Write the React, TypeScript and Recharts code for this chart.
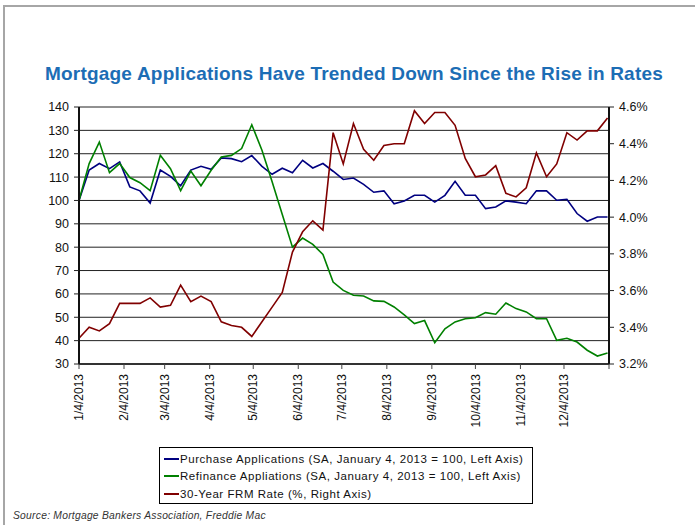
import React from 'react';
import { LineChart, Line, XAxis, YAxis, CartesianGrid } from 'recharts';

// weekly observations (Fridays)
const weekDates = [
  '1/4/2013', '1/11/2013', '1/18/2013', '1/25/2013',
  '2/1/2013', '2/8/2013', '2/15/2013', '2/22/2013',
  '3/1/2013', '3/8/2013', '3/15/2013', '3/22/2013', '3/29/2013',
  '4/5/2013', '4/12/2013', '4/19/2013', '4/26/2013',
  '5/3/2013', '5/10/2013', '5/17/2013', '5/24/2013', '5/31/2013',
  '6/7/2013', '6/14/2013', '6/21/2013', '6/28/2013',
  '7/5/2013', '7/12/2013', '7/19/2013', '7/26/2013',
  '8/2/2013', '8/9/2013', '8/16/2013', '8/23/2013', '8/30/2013',
  '9/6/2013', '9/13/2013', '9/20/2013', '9/27/2013',
  '10/4/2013', '10/11/2013', '10/18/2013', '10/25/2013',
  '11/1/2013', '11/8/2013', '11/15/2013', '11/22/2013', '11/29/2013',
  '12/6/2013', '12/13/2013', '12/20/2013', '12/27/2013',
  '1/3/2014',
];

const purchase = [
  100, 113.0, 115.8, 113.6, 116.5, 105.8, 104.1, 98.9, 113.0, 110.3,
  106.3, 113.0, 114.6, 113.3, 118.2, 117.9, 116.6, 119.2, 114.6, 111.2,
  113.8, 111.9, 117.2, 113.9, 115.8, 112.5, 109.0, 109.6, 106.9, 103.5,
  104.1, 98.6, 99.8, 102.2, 102.2, 99.3, 102.2, 108.2, 102.2, 102.2,
  96.5, 97.2, 99.8, 99.3, 98.6, 104.1, 104.1, 100.1, 100.5, 94.4,
  91.1, 92.9, 92.9,
];

const refinance = [
  100, 115.8, 125.0, 111.9, 115.8, 109.8, 107.6, 104.2, 119.3, 113.6,
  104.2, 112.6, 106.3, 112.9, 118.6, 119.3, 122.2, 132.4, 121.5, 108.0,
  94.0, 80.0, 83.9, 81.2, 76.9, 65.1, 61.5, 59.4, 59.1, 57.0,
  56.8, 54.4, 51.0, 47.3, 48.6, 39.1, 45.1, 48.0, 49.4, 49.8,
  52.0, 51.3, 56.1, 53.7, 52.3, 49.4, 49.4, 40.1, 41.0, 39.4,
  35.9, 33.4, 34.7,
];

const frmRate = [
  3.34, 3.40, 3.38, 3.42, 3.53, 3.53, 3.53, 3.56, 3.51, 3.52,
  3.63, 3.54, 3.57, 3.54, 3.43, 3.41, 3.40, 3.35, 3.43, 3.51,
  3.59, 3.81, 3.92, 3.98, 3.93, 4.46, 4.29, 4.51, 4.37, 4.31,
  4.39, 4.40, 4.40, 4.58, 4.51, 4.57, 4.57, 4.50, 4.32, 4.22,
  4.23, 4.28, 4.13, 4.11, 4.16, 4.35, 4.22, 4.29, 4.46, 4.42,
  4.47, 4.47, 4.54,
];

const tickLabels = [
  '1/4/2013', '2/4/2013', '3/4/2013', '4/4/2013', '5/4/2013', '6/4/2013',
  '7/4/2013', '8/4/2013', '9/4/2013', '10/4/2013', '11/4/2013', '12/4/2013',
];
const axisStart = '1/4/2013';
const axisEnd = '1/4/2014';

const leftTicks = [30, 40, 50, 60, 70, 80, 90, 100, 110, 120, 130, 140];
const rightTicks = [3.2, 3.4, 3.6, 3.8, 4.0, 4.2, 4.4, 4.6];

const toUtc = (s: string) => {
  const [m, d, y] = s.split('/').map(Number);
  return Date.UTC(y, m - 1, d);
};
const dayOf = (s: string) => (toUtc(s) - toUtc(axisStart)) / 86400000;

const data = weekDates.map((d, i) => ({
  day: dayOf(d),
  purchase: purchase[i],
  refi: refinance[i],
  rate: frmRate[i],
}));

const tickDays = [...tickLabels, axisEnd].map(dayOf);
const labelByDay: Record<number, string> = {};
tickLabels.forEach((t) => (labelByDay[dayOf(t)] = t));

const FONT = '"Liberation Sans", Arial, sans-serif';

const DateTick = (props: any) => {
  const { x, y, payload } = props;
  const label = labelByDay[payload.value];
  if (!label) return null;
  const ty = y + 3;
  return (
    <text
      x={x}
      y={ty}
      dy="0.35em"
      textAnchor="end"
      transform={`rotate(-90, ${x}, ${ty})`}
      fontSize={12}
      fontFamily={FONT}
      fill="#111"
    >
      {label}
    </text>
  );
};

const legendItems = [
  { color: '#000080', text: 'Purchase Applications (SA, January 4, 2013 = 100, Left Axis)' },
  { color: '#008000', text: 'Refinance Appliations (SA, January 4, 2013 = 100, Left Axis)' },
  { color: '#800000', text: '30-Year FRM Rate (%, Right Axis)' },
];

export default function App() {
  return (
    <div
      style={{
        position: 'absolute',
        left: 0,
        top: 0,
        width: 695,
        height: 525,
        background: '#fff',
        fontFamily: FONT,
        overflow: 'hidden',
      }}
    >
      <div
        style={{
          position: 'absolute',
          left: 3,
          top: 5,
          width: 700,
          height: 530,
          borderTop: '2px solid #a6a6a6',
          borderLeft: '2px solid #a6a6a6',
        }}
      />
      <div
        style={{
          position: 'absolute',
          left: 0,
          top: 63,
          width: 708,
          textAlign: 'center',
          color: '#1c6db5',
          fontWeight: 700,
          fontSize: 19,
          letterSpacing: 0.2,
          whiteSpace: 'nowrap',
        }}
      >
        Mortgage Applications Have Trended Down Since the Rise in Rates
      </div>

      <div style={{ position: 'absolute', left: 0, top: 0 }}>
        <LineChart
          width={695}
          height={525}
          data={data}
          margin={{ top: 107, right: 36, bottom: 91, left: 39 }}
        >
          <CartesianGrid
            yAxisId="left"
            vertical={false}
            stroke="#222"
            strokeWidth={1}
          />
          <XAxis
            type="number"
            dataKey="day"
            domain={[0, dayOf(axisEnd)]}
            ticks={tickDays}
            interval={0}
            tick={<DateTick />}
            tickSize={5}
            tickLine={{ stroke: '#444' }}
            axisLine={{ stroke: '#333', strokeWidth: 2 }}
            height={70}
          />
          <YAxis
            yAxisId="left"
            domain={[30, 140]}
            ticks={leftTicks}
            interval={0}
            width={40}
            tickSize={5}
            tickMargin={5}
            tickLine={{ stroke: '#222' }}
            axisLine={{ stroke: '#111', strokeWidth: 2 }}
            tick={{ fontSize: 12.5, fill: '#111', fontFamily: FONT }}
          />
          <YAxis
            yAxisId="right"
            orientation="right"
            domain={[3.2, 4.6]}
            ticks={rightTicks}
            interval={0}
            width={50}
            tickSize={5}
            tickMargin={5}
            tickLine={{ stroke: '#222' }}
            axisLine={{ stroke: '#111', strokeWidth: 2 }}
            tickFormatter={(v: number) => `${v.toFixed(1)}%`}
            tick={{ fontSize: 12.5, fill: '#111', fontFamily: FONT }}
          />
          <Line
            yAxisId="left"
            type="linear"
            dataKey="purchase"
            stroke="#000080"
            strokeWidth={1.6}
            dot={false}
            isAnimationActive={false}
          />
          <Line
            yAxisId="left"
            type="linear"
            dataKey="refi"
            stroke="#008000"
            strokeWidth={1.6}
            dot={false}
            isAnimationActive={false}
          />
          <Line
            yAxisId="right"
            type="linear"
            dataKey="rate"
            stroke="#800000"
            strokeWidth={1.6}
            dot={false}
            isAnimationActive={false}
          />
        </LineChart>
      </div>

      <div
        style={{
          position: 'absolute',
          left: 159,
          top: 447,
          width: 374,
          height: 57,
          border: '1px solid #000',
          boxSizing: 'border-box',
          padding: '2px 0 0 4px',
        }}
      >
        {legendItems.map((it) => (
          <div
            key={it.text}
            style={{
              display: 'flex',
              alignItems: 'center',
              height: 17.5,
              fontSize: 11.5,
              letterSpacing: 0.55,
              color: '#111',
            }}
          >
            <span
              style={{ display: 'inline-block', width: 15, height: 2, background: it.color, marginRight: 1 }}
            />
            <span style={{ whiteSpace: 'nowrap' }}>{it.text}</span>
          </div>
        ))}
      </div>

      <div
        style={{
          position: 'absolute',
          left: 13,
          top: 510,
          fontSize: 10.3,
          letterSpacing: 0.25,
          fontStyle: 'italic',
          color: '#333',
          whiteSpace: 'nowrap',
        }}
      >
        Source: Mortgage Bankers Association, Freddie Mac
      </div>
    </div>
  );
}
